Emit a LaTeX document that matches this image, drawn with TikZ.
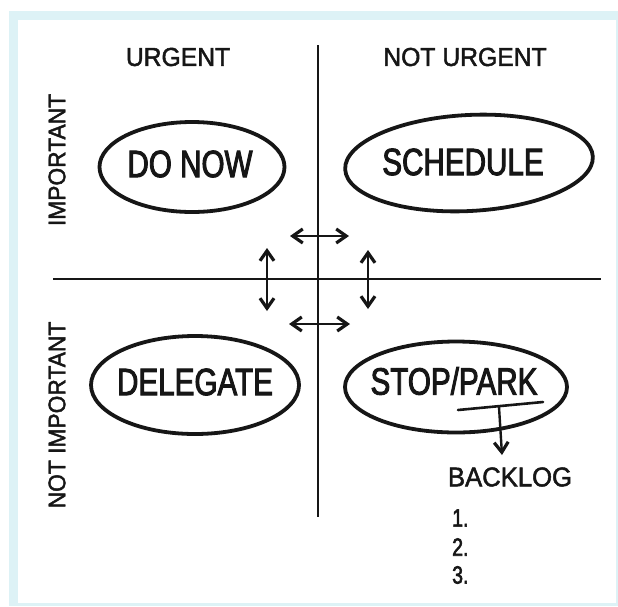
\documentclass[tikz,border=0pt]{standalone}
\usepackage{fontspec}
\setmainfont{Liberation Sans}
\newfontfamily\inkfont{Liberation Sans}[FakeStretch=0.78,FakeBold=2.4]
\newfontfamily\headfont{Liberation Sans}[FakeStretch=0.95,FakeBold=1.8]
\usetikzlibrary{shapes.geometric,arrows.meta}
\definecolor{framecol}{RGB}{221,242,246}
\definecolor{ink}{RGB}{22,22,22}
\tikzset{inkbarb/.tip={Straight Barb[length=10pt,width=14pt,line width=3.2pt]}}

\begin{document}
\begin{tikzpicture}[x=1pt,y=-1pt,
  quad/.style={ellipse, draw=ink, line width=3.8pt, inner sep=0pt},
  quadtext/.style={text=ink, inner sep=0pt, font=\inkfont\fontsize{38}{38}\selectfont},
  axis/.style={draw=ink, line width=2.6pt},
  head/.style={text=ink, inner sep=0pt, font=\headfont\fontsize{26}{26}\selectfont},
  side/.style={text=ink, inner sep=0pt, rotate=90, font=\headfont\fontsize{24}{24}\selectfont},
  listitem/.style={text=ink, inner sep=0pt, anchor=west, font=\inkfont\fontsize{25}{25}\selectfont},
  swap/.style={draw=ink, line width=2.4pt, {inkbarb}-{inkbarb}}
]
\useasboundingbox (0,0) rectangle (618,606);

% light blue frame around the sheet
\fill[framecol] (9,11) rectangle (618,606);
\fill[white] (18,20) rectangle (616,603);

% the two axes
\coordinate (vtop) at (318,45);
\coordinate (vbot) at (318,517);
\coordinate (hleft) at (53,279);
\coordinate (hright) at (601,279);
\draw[axis] (vtop) -- (vbot);
\draw[axis] (hleft) -- (hright);

% axis headings
\node[head] (urgent) at (178,57) {URGENT};
\node[head] (noturgent) at (465,57) {NOT URGENT};
\node[side] (important) at (57,160) {IMPORTANT};
\node[side] (notimportant) at (57,415) {NOT IMPORTANT};

% the four quadrants
\node[quad, minimum width=185pt, minimum height=90pt] (donow) at (192,167) {};
\node[quadtext] (donowtxt) at (190,164) {DO NOW};
\node[quad, minimum width=248pt, minimum height=96pt, rotate=3] (schedule) at (469,163) {};
\node[quadtext] (schedtxt) at (463,162) {SCHEDULE};
\node[quad, minimum width=208pt, minimum height=98pt] (delegate) at (195,385) {};
\node[quadtext] (delegtxt) at (195,382) {DELEGATE};
\node[quad, minimum width=222pt, minimum height=91pt] (stop) at (456,387) {};
\node[quadtext] (stoptxt) at (454,381) {STOP/PARK};

% moving tasks between quadrants
\coordinate (tl) at (290,236);
\coordinate (tr) at (349,236);
\coordinate (bl) at (289,324);
\coordinate (br) at (350,324);
\coordinate (lt) at (267,248);
\coordinate (lb) at (267,311);
\coordinate (rt) at (368,250);
\coordinate (rb) at (368,309);
\draw[swap] (tl) -- (tr);
\draw[swap] (bl) -- (br);
\draw[swap] (lt) -- (lb);
\draw[swap] (rt) -- (rb);

% parked tasks go to the backlog
\coordinate (ulstart) at (458,410);
\coordinate (ulend) at (543,402);
\coordinate (ulmid) at (499,407);
\coordinate (bltip) at (502,455);
\draw[ink, line width=2.6pt, line cap=round] (ulstart) -- (ulend);
\node[head, font=\headfont\fontsize{27}{27}\selectfont] (backlog) at (510,477) {BACKLOG};
\draw[ink, line width=2.4pt, -{inkbarb}] (ulmid) -- (bltip);

\node[listitem] (item1) at (452,518) {1.};
\node[listitem] (item2) at (452,547) {2.};
\node[listitem] (item3) at (452,575) {3.};
\end{tikzpicture}
\end{document}
